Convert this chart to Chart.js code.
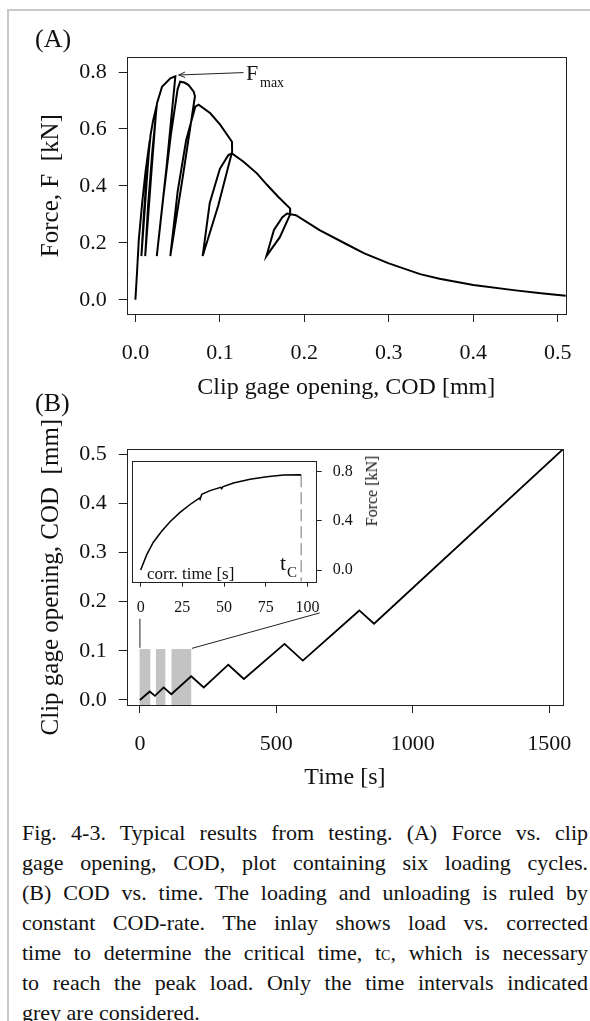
<!DOCTYPE html>
<html lang="en">
<head>
<meta charset="UTF-8" />
<title>Force vs. COD and COD vs. time</title>
<script src="https://cdn.jsdelivr.net/npm/chart.js"></script>
<style>
  body { margin: 0; background: #fff; }
  #page { position: relative; width: 590px; height: 1021px; overflow: hidden;
          font-family: "Liberation Serif", serif; color: #111; }
  .frame { position: absolute; left: 7px; top: 9px; width: 700px; height: 1100px;
           border-left: 2px solid #c8c8c8; border-top: 2px solid #c8c8c8; }
  canvas { position: absolute; }
  .txt { position: absolute; white-space: nowrap; line-height: 1; }
  #caption { position: absolute; left: 22px; top: 818px; width: 566px; font-size: 22px; }
  #caption .ln { height: 30px; line-height: 30px; text-align: justify; text-align-last: justify; }
  #caption .ln.last { text-align-last: left; }
</style>
</head>
<body>
<div id="page">
  <div class="frame"></div>

  <canvas id="chartA" width="590" height="402" style="left:0;top:0"></canvas>
  <canvas id="chartB" width="590" height="400" style="left:0;top:400px"></canvas>
  <canvas id="inset" width="285" height="180" style="left:100px;top:440px"></canvas>

  <div class="txt" style="left:35px;top:26px;font-size:26px">(A)</div>
  <div class="txt" style="left:35px;top:390px;font-size:26px">(B)</div>
  <div class="txt" style="left:246px;top:62px;font-size:22px">F</div>
  <div class="txt" style="left:260px;top:76px;font-size:14px">max</div>
  <div class="txt" style="left:147px;top:565px;font-size:17px">corr. time [s]</div>
  <div class="txt" style="left:280px;top:552px;font-size:22px">t</div>
  <div class="txt" style="left:287px;top:565px;font-size:15px">C</div>
  <div class="txt" style="left:372px;top:491px;font-size:16px;transform:translate(-50%,-50%) rotate(-90deg)">Force [kN]</div>

  <div id="caption">
    <div class="ln">Fig. 4-3. Typical results from testing. (A) Force vs. clip</div>
    <div class="ln">gage opening, COD, plot containing six loading cycles.</div>
    <div class="ln">(B) COD vs. time. The loading and unloading is ruled by</div>
    <div class="ln">constant COD-rate. The inlay shows load vs. corrected</div>
    <div class="ln">time to determine the critical time, t<span style="font-size:14px">C</span>, which is necessary</div>
    <div class="ln">to reach the peak load. Only the time intervals indicated</div>
    <div class="ln last">grey are considered.</div>
  </div>
</div>

<script>
  // (A) force vs. clip gage opening, six loading cycles
  const codA = [0, 0.002, 0.004, 0.008, 0.012, 0.017, 0.013, 0.0071, 0.010, 0.014,
    0.018, 0.021, 0.025, 0.019, 0.0116, 0.015, 0.020, 0.0255, 0.0315, 0.0414,
    0.0473, 0.037, 0.0253, 0.033, 0.042, 0.050, 0.053, 0.058, 0.063, 0.069,
    0.0705, 0.056, 0.0413, 0.050, 0.060, 0.0709, 0.0748, 0.0887, 0.1005, 0.1143,
    0.1145, 0.098, 0.0796, 0.088, 0.100, 0.110, 0.1143, 0.128, 0.1438, 0.156,
    0.169, 0.183, 0.1832, 0.171, 0.1551, 0.164, 0.174, 0.1795, 0.19, 0.218,
    0.25, 0.271, 0.30, 0.337, 0.36, 0.40, 0.45, 0.48, 0.5095];
  const forceA = [0, 0.10, 0.21, 0.34, 0.45, 0.56, 0.40, 0.1535, 0.30, 0.46,
    0.58, 0.63, 0.68, 0.45, 0.1535, 0.33, 0.52, 0.69, 0.748, 0.778,
    0.785, 0.47, 0.1535, 0.36, 0.58, 0.74, 0.766, 0.763, 0.754, 0.731,
    0.715, 0.43, 0.1535, 0.38, 0.56, 0.678, 0.685, 0.655, 0.614, 0.555,
    0.52, 0.33, 0.1535, 0.34, 0.46, 0.508, 0.514, 0.485, 0.444, 0.403,
    0.362, 0.321, 0.30, 0.22, 0.1535, 0.245, 0.29, 0.303, 0.297, 0.245,
    0.195, 0.163, 0.128, 0.090, 0.074, 0.052, 0.033, 0.023, 0.014];
  const ticksAx = [0, 0.1, 0.2, 0.3, 0.4, 0.5];
  const ticksAy = [0, 0.2, 0.4, 0.6, 0.8];
  const fmaxTip = [0.0512, 0.7895];   // arrow points at the peak
  const fmaxTail = [0.128, 0.798];

  // (B) COD vs. time
  const timeB = [0, 36, 55, 87, 115, 188, 234, 324, 381, 530, 597, 804, 858, 1551];
  const codB = [0, 0.0172, 0.0083, 0.0255, 0.0117, 0.0483, 0.0255, 0.0717, 0.0428, 0.114, 0.080, 0.182, 0.155, 0.51];
  const greyStart = [-2, 58, 115];
  const greyEnd = [39, 94, 189];
  const greyTop = 0.1034;
  const linkVertT = [0, 0], linkVertC = [0.106, 0.165];
  const linkDiagT = [191, 659], linkDiagC = [0.105, 0.177];
  const ticksBx = [0, 500, 1000, 1500];
  const ticksBy = [0, 0.1, 0.2, 0.3, 0.4, 0.5];

  // inset: force vs. corrected time
  const tInset = [0, 3.6, 7.6, 12.6, 17.6, 23.6, 29.6, 35.2, 35.6, 36.6, 41.6, 48.0, 48.6, 49.2, 55.6, 65.6, 75.6, 85.6, 95.6, 96.2];
  const fInset = [0, 0.123, 0.226, 0.315, 0.392, 0.469, 0.533, 0.585, 0.575, 0.615, 0.646, 0.672, 0.662, 0.676, 0.708, 0.738, 0.759, 0.772, 0.774, 0.77];
  const tCrit = 96.2;
  const ticksIx = [0, 25, 50, 75, 100];
  const ticksIy = [0, 0.4, 0.8];

  const SERIF = "'Liberation Serif', serif";
  const INK = "#111";
  Chart.defaults.font.family = SERIF;
  Chart.defaults.color = INK;

  const pts = (xs, ys) => xs.map((x, i) => ({ x: x, y: ys[i] }));

  const boxPlugin = {
    id: "box",
    afterDraw(chart) {
      const a = chart.chartArea, ctx = chart.ctx;
      ctx.save();
      ctx.strokeStyle = "#222";
      ctx.lineWidth = 1;
      ctx.strokeRect(Math.round(a.left) + 0.5, Math.round(a.top) + 0.5,
        Math.round(a.right - a.left), Math.round(a.bottom - a.top));
      ctx.restore();
    }
  };

  const arrowPlugin = {
    id: "fmaxArrow",
    afterDatasetsDraw(chart) {
      const sx = chart.scales.x, sy = chart.scales.y, ctx = chart.ctx;
      const x0 = sx.getPixelForValue(fmaxTail[0]), y0 = sy.getPixelForValue(fmaxTail[1]);
      const x1 = sx.getPixelForValue(fmaxTip[0]), y1 = sy.getPixelForValue(fmaxTip[1]);
      const ang = Math.atan2(y1 - y0, x1 - x0);
      ctx.save();
      ctx.strokeStyle = "#222";
      ctx.lineWidth = 1;
      ctx.beginPath();
      ctx.moveTo(x0, y0);
      ctx.lineTo(x1, y1);
      ctx.moveTo(x1 - 7 * Math.cos(ang - 0.4), y1 - 7 * Math.sin(ang - 0.4));
      ctx.lineTo(x1, y1);
      ctx.lineTo(x1 - 7 * Math.cos(ang + 0.4), y1 - 7 * Math.sin(ang + 0.4));
      ctx.stroke();
      ctx.restore();
    }
  };

  function xAxis(min, max, ticks, dec, size, tickLen, pad, height, title, titleSize, titlePad) {
    return {
      type: "linear", position: "bottom", min: min, max: max,
      afterBuildTicks: s => { s.ticks = ticks.map(v => ({ value: v })); },
      afterFit: s => { s.height = height; },
      ticks: { callback: v => v.toFixed(dec), font: { family: SERIF, size: size }, color: INK,
               padding: pad, maxRotation: 0, autoSkip: false },
      grid: { drawOnChartArea: false, drawTicks: true, tickLength: tickLen, color: "#222" },
      border: { display: false },
      title: { display: !!title, text: title, font: { family: SERIF, size: titleSize }, color: INK,
               padding: { top: 0, bottom: titlePad } }
    };
  }

  function yAxis(pos, min, max, ticks, dec, size, tickLen, pad, width, title, titleSize, titlePad) {
    return {
      type: "linear", position: pos, min: min, max: max,
      afterBuildTicks: s => { s.ticks = ticks.map(v => ({ value: v })); },
      afterFit: s => { s.width = width; },
      ticks: { callback: v => v.toFixed(dec), font: { family: SERIF, size: size }, color: INK,
               padding: pad, autoSkip: false },
      grid: { drawOnChartArea: false, drawTicks: true, tickLength: tickLen, color: "#222" },
      border: { display: false },
      title: { display: !!title, text: title, font: { family: SERIF, size: titleSize }, color: INK,
               padding: { top: titlePad, bottom: 0 } }
    };
  }

  const common = {
    responsive: false,
    animation: false,
    plugins: { legend: { display: false }, tooltip: { enabled: false } },
    elements: { point: { radius: 0 }, line: { tension: 0 } }
  };

  // chart A
  new Chart(document.getElementById("chartA"), {
    type: "scatter",
    data: {
      datasets: [{ data: pts(codA, forceA), showLine: true, borderColor: "#000", borderWidth: 2 }]
    },
    options: Object.assign({}, common, {
      layout: { padding: { left: 0, top: 57.3, right: 24, bottom: 0 } },
      scales: {
        x: xAxis(-0.0103, 0.5095, ticksAx, 1, 22, 8, 18, 88, "Clip gage opening, COD [mm]", 24, 0),
        y: yAxis("left", -0.050, 0.8517, ticksAy, 1, 22, 8, 12, 126.7, "Force, F  [kN]", 25, 36)
      }
    }),
    plugins: [boxPlugin, arrowPlugin]
  });

  // chart B
  const greySets = greyStart.map((s, i) => ({
    data: pts([s, greyEnd[i]], [greyTop, greyTop]),
    showLine: true, borderWidth: 0, borderColor: "rgba(0,0,0,0)",
    backgroundColor: "#c3c3c3", fill: "start"
  }));
  new Chart(document.getElementById("chartB"), {
    type: "scatter",
    data: {
      datasets: [
        { data: pts(timeB, codB), showLine: true, borderColor: "#000", borderWidth: 1.8 },
        { data: pts(linkVertT, linkVertC), showLine: true, borderColor: "#222", borderWidth: 1 },
        { data: pts(linkDiagT, linkDiagC), showLine: true, borderColor: "#222", borderWidth: 1 }
      ].concat(greySets)
    },
    options: Object.assign({}, common, {
      layout: { padding: { left: 0, top: 49.3, right: 24, bottom: 0 } },
      scales: {
        x: xAxis(-48.4, 1551, ticksBx, 0, 22, 8, 18, 95, "Time [s]", 24, 8),
        y: yAxis("left", -0.0102, 0.5096, ticksBy, 1, 22, 8, 12, 126.7, "Clip gage opening, COD  [mm]", 25, 36)
      }
    }),
    plugins: [boxPlugin]
  });

  // inset
  new Chart(document.getElementById("inset"), {
    type: "scatter",
    data: {
      datasets: [
        { data: pts(tInset, fInset), showLine: true, borderColor: "#000", borderWidth: 1.5 },
        { data: pts([tCrit, tCrit], [fInset[fInset.length - 1], -0.095]), showLine: true,
          borderColor: "#8a8a8a", borderWidth: 1.2, borderDash: [12, 5] }
      ]
    },
    options: Object.assign({}, common, {
      layout: { padding: { left: 32.3, top: 13.3, right: 0, bottom: 0 } },
      scales: {
        x: xAxis(-5.0, 105.5, ticksIx, 0, 16, 5, 11, 38.3, "", 16, 0),
        y: yAxis("right", -0.095, 0.89, ticksIy, 1, 16, 5, 11, 68.3, "", 16, 0)
      }
    }),
    plugins: [boxPlugin]
  });
</script>
</body>
</html>
